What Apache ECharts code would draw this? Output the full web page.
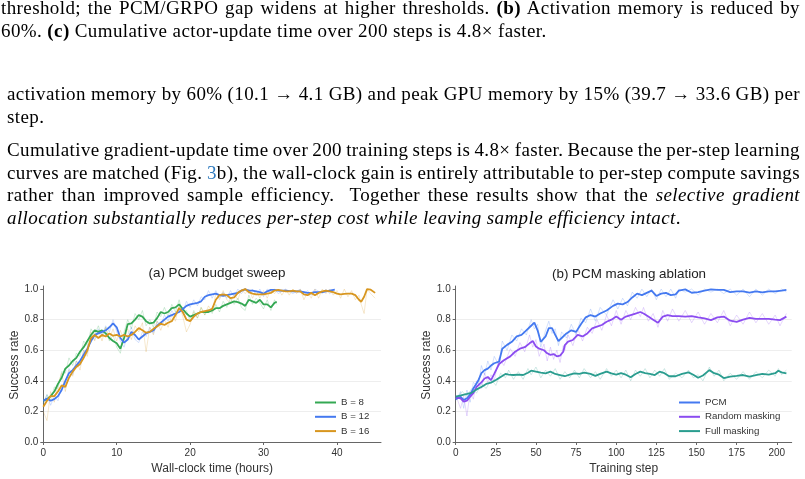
<!DOCTYPE html>
<html>
<head>
<meta charset="utf-8">
<script src="https://cdn.jsdelivr.net/npm/echarts@6/dist/echarts.min.js"></script>
<style>
  html, body { margin: 0; padding: 0; background: #fff; }
  #page { position: relative; width: 805px; height: 479px; overflow: hidden; }
  #chart { position: absolute; left: 0; top: 0; width: 805px; height: 479px; }
  .ln { position: absolute; left: 7px; width: 793px; font-family: "Liberation Serif", "Times New Roman", serif;
        font-size: 19px; letter-spacing: 0.4px; line-height: 20px; color: #000; white-space: nowrap; overflow: visible; }
  .j { text-align: justify; text-align-last: justify; }
  .ref { color: #2f7bbf; }
</style>
</head>
<body>
<div id="page">
  <div id="chart"></div>
  <div class="ln j" style="left:1px;width:799px;top:-2px">threshold; the PCM/GRPO gap widens at higher thresholds. <b>(b)</b> Activation memory is reduced by</div>
  <div class="ln" style="left:1px;top:21px">60%. <b>(c)</b> Cumulative actor-update time over 200 steps is 4.8× faster.</div>

  <div class="ln j" style="top:84px">activation memory by 60% (10.1 → 4.1 GB) and peak GPU memory by 15% (39.7 → 33.6 GB) per</div>
  <div class="ln" style="top:107px">step.</div>

  <div class="ln j" style="top:140px">Cumulative gradient-update time over 200 training steps is 4.8× faster. Because the per-step learning</div>
  <div class="ln j" style="top:163px">curves are matched (Fig. <span class="ref">3</span>b), the wall-clock gain is entirely attributable to per-step compute savings</div>
  <div class="ln j" style="top:185px">rather than improved sample efficiency.&nbsp; Together these results show that the <i>selective gradient</i></div>
  <div class="ln" style="top:208px"><i>allocation substantially reduces per-step cost while leaving sample efficiency intact</i>.</div>
</div>
<script>
// (a) budget sweep: wall-clock hours vs success rate
const b8Hours = [0,0.5,1,1.5,2,2.5,3,3.5,4,4.5,5,5.5,6,6.5,7,7.5,8,8.5,9,9.5,10,10.5,11,11.5,12,12.5,13,13.5,14,14.5,15,15.5,16,16.5,17,17.5,18,18.5,19,19.5,20,20.5,21,21.5,22,22.5,23,23.5,24,24.5,25,25.5,26,26.5,27,27.5,28,28.5,29,29.5,30,30.5,31,31.5,31.8];
const b8Rate = [0.27,0.28,0.30,0.33,0.38,0.42,0.48,0.50,0.53,0.55,
  0.59,0.62,0.66,0.70,0.73,0.72,0.73,0.71,0.68,0.66,
  0.645,0.61,0.68,0.77,0.775,0.80,0.83,0.82,0.79,0.775,
  0.78,0.81,0.85,0.84,0.85,0.875,0.88,0.90,0.87,0.84,
  0.82,0.83,0.84,0.85,0.85,0.85,0.86,0.875,0.875,0.89,
  0.90,0.91,0.92,0.915,0.905,0.89,0.93,0.92,0.91,0.93,
  0.90,0.90,0.88,0.91,0.917];
const b8Raw = [0.25,0.31,0.27,0.36,0.35,0.46,0.45,0.55,0.50,0.58,
  0.56,0.66,0.63,0.74,0.70,0.76,0.69,0.75,0.66,0.70,
  0.62,0.58,0.72,0.80,0.74,0.84,0.80,0.86,0.76,0.80,
  0.75,0.85,0.82,0.88,0.82,0.90,0.85,0.93,0.84,0.86,
  0.79,0.86,0.81,0.88,0.83,0.87,0.84,0.90,0.85,0.92,
  0.88,0.94,0.90,0.94,0.88,0.86,0.96,0.90,0.94,0.91,
  0.87,0.93,0.86,0.93,0.90];

const b12Hours = [0,0.5,1,1.5,2,2.5,3,3.5,4,4.5,5,5.5,6,6.5,7,7.5,8,8.5,9,9.5,10,10.5,11,11.5,12,12.5,13,13.5,14,14.5,15,15.5,16,16.5,17,17.5,18,18.5,19,19.5,20,20.5,21,21.5,22,22.5,23,23.5,24,24.5,25,25.5,26,26.5,27,27.5,28,28.5,29,29.5,30,30.5,31,31.5,32,33,34,35,35.5,36,36.5,37,38,38.5,39,39.7];
const b12Rate = [0.27,0.285,0.27,0.28,0.30,0.34,0.40,0.45,0.47,0.50,
  0.53,0.57,0.61,0.66,0.70,0.71,0.72,0.73,0.75,0.775,
  0.75,0.68,0.65,0.67,0.72,0.70,0.67,0.69,0.71,0.72,
  0.73,0.76,0.78,0.80,0.82,0.83,0.84,0.85,0.87,0.89,
  0.90,0.905,0.91,0.92,0.95,0.96,0.965,0.97,0.96,0.955,
  0.96,0.965,0.97,0.975,0.99,0.998,0.99,0.99,0.985,0.98,
  0.97,0.985,0.995,0.995,0.99,
  0.99,0.985,0.985,0.98,0.975,0.975,0.98,0.98,0.985,0.99,0.996];
const b12Raw = [0.25,0.31,0.24,0.30,0.27,0.37,0.38,0.48,0.44,0.53,
  0.50,0.60,0.58,0.69,0.67,0.74,0.70,0.76,0.72,0.80,
  0.72,0.66,0.62,0.70,0.75,0.67,0.65,0.72,0.69,0.75,
  0.71,0.79,0.76,0.83,0.79,0.86,0.82,0.88,0.85,0.92,
  0.88,0.93,0.89,0.95,0.93,0.99,0.94,0.99,0.94,0.98,
  0.94,0.99,0.95,1.0,0.97,1.0,0.97,1.0,0.96,1.0,
  0.95,1.0,0.98,1.0,0.97,
  1.0,0.97,1.0,0.96,0.99,0.96,1.0,0.97,1.0,0.97,1.0];

const b16Hours = [0,0.5,1,1.5,2,2.5,3,3.5,4,4.5,5,5.5,6,6.5,7,7.5,8,8.5,9,9.5,10,10.5,11,11.5,12,12.5,13,13.5,14,14.5,15,15.5,16,16.5,17,17.5,18,18.5,19,19.5,20,20.5,21,21.5,22,22.5,23,23.5,24,24.5,25,25.5,26,26.5,27,27.5,28,28.5,29,29.5,30,30.5,31,31.5,32,32.5,33,33.5,34,34.5,35,35.5,36,36.5,37,37.5,38,38.5,39,39.5,40,40.5,41,41.5,42,42.5,43,43.3,43.7,44.1,44.6,45.2];
const b16Rate = [0.23,0.27,0.30,0.30,0.33,0.37,0.36,0.42,0.46,0.49,
  0.51,0.55,0.60,0.68,0.70,0.68,0.70,0.69,0.71,0.695,
  0.70,0.69,0.70,0.69,0.70,0.72,0.745,0.73,0.715,0.72,
  0.74,0.755,0.775,0.765,0.78,0.79,0.83,0.875,0.85,0.80,
  0.79,0.82,0.84,0.85,0.855,0.86,0.87,0.93,0.96,0.965,
  0.96,0.94,0.945,0.975,0.99,1.0,0.98,0.97,0.965,0.965,
  0.965,0.97,0.975,0.99,0.995,0.99,0.985,0.985,0.99,0.985,
  0.985,0.965,0.96,0.975,0.96,0.975,0.985,0.99,0.985,0.98,
  0.97,0.965,0.968,0.97,0.97,0.96,0.93,
  0.917,0.95,1.0,0.996,0.975];
const b16Raw = [0.20,0.14,0.33,0.26,0.38,0.45,0.33,0.47,0.43,0.53,
  0.47,0.60,0.56,0.72,0.66,0.73,0.66,0.75,0.67,0.74,
  0.66,0.73,0.66,0.74,0.67,0.76,0.72,0.78,0.59,0.75,
  0.70,0.79,0.73,0.80,0.75,0.83,0.79,0.90,0.82,0.72,
  0.77,0.85,0.81,0.88,0.83,0.89,0.85,0.97,0.93,0.99,
  0.93,0.91,0.97,0.93,1.0,0.97,1.0,0.94,0.99,0.94,
  0.99,0.94,1.0,0.97,1.0,0.96,1.0,0.96,1.0,0.97,
  1.0,0.93,0.98,0.94,1.0,0.94,1.0,0.97,1.0,0.96,
  0.99,0.94,1.0,0.95,0.99,0.93,0.96,
  0.90,0.84,1.0,0.97,0.94];

// (b) masking ablation: training step vs success rate
const pcmSteps = [0,3,5,7,9,11,14,16,18,20,22,24,27,29,32,35,38,41,44,47,49,51,53,56,58,60,62,64,66,69,72,75,78,81,84,87,90,94,98,101,104,107,110,113,116,119,122,125,128,131,134,137,139,143,147,151,155,159,163,167,171,175,179,183,187,191,195,199,203,206];
const pcmRate = [0.28,0.295,0.275,0.285,0.31,0.35,0.40,0.45,0.47,0.48,
  0.50,0.515,0.525,0.61,0.635,0.655,0.69,0.70,0.73,0.76,
  0.78,0.73,0.655,0.69,0.745,0.745,0.70,0.66,0.68,0.71,
  0.73,0.72,0.77,0.815,0.83,0.82,0.84,0.86,0.89,0.905,
  0.90,0.915,0.945,0.97,0.96,0.975,0.99,0.955,0.97,0.975,
  0.96,0.965,0.99,0.998,0.976,0.98,0.99,0.998,0.995,0.995,
  0.98,0.985,0.985,0.976,0.985,0.978,0.985,0.985,0.99,0.995];
const pcmRaw = [0.27,0.33,0.22,0.34,0.26,0.39,0.36,0.50,0.44,0.53,
  0.47,0.56,0.50,0.66,0.60,0.70,0.66,0.74,0.70,0.80,
  0.74,0.77,0.62,0.73,0.79,0.71,0.74,0.63,0.72,0.68,
  0.77,0.70,0.81,0.78,0.87,0.79,0.88,0.83,0.93,0.87,
  0.94,0.89,0.98,0.94,1.0,0.95,1.0,0.93,1.0,0.95,
  1.0,0.94,1.0,0.98,1.0,0.96,1.0,0.98,1.0,0.97,
  1.0,0.96,1.0,0.95,1.0,0.96,1.0,0.97,1.0,0.98];

const rmSteps = [0,3,5,7,9,11,13,16,18,20,22,24,27,30,34,37,40,43,46,48,50,52,55,57,59,61,63,65,67,68,70,73,76,79,82,85,88,91,94,97,100,103,106,109,112,115,117,120,123,126,129,132,135,139,143,147,151,155,159,163,167,171,175,179,183,187,191,195,199,202,206];
const rmRate = [0.29,0.285,0.264,0.27,0.296,0.32,0.36,0.39,0.415,0.425,
  0.405,0.445,0.51,0.535,0.56,0.59,0.61,0.62,0.645,0.66,
  0.625,0.61,0.60,0.58,0.57,0.575,0.56,0.565,0.59,0.634,
  0.656,0.667,0.70,0.69,0.71,0.743,0.754,0.765,0.786,0.80,
  0.82,0.80,0.82,0.83,0.84,0.85,0.84,0.82,0.80,0.78,
  0.82,0.83,0.823,0.823,0.82,0.823,0.815,0.808,0.797,0.815,
  0.82,0.793,0.786,0.80,0.812,0.805,0.805,0.805,0.80,0.797,
  0.82];
const rmRaw = [0.31,0.22,0.30,0.17,0.33,0.28,0.40,0.35,0.45,0.39,
  0.44,0.40,0.55,0.50,0.61,0.56,0.65,0.59,0.70,0.62,
  0.67,0.56,0.64,0.53,0.62,0.54,0.60,0.52,0.63,0.60,
  0.70,0.63,0.74,0.66,0.75,0.71,0.80,0.73,0.83,0.76,
  0.86,0.77,0.86,0.80,0.88,0.82,0.88,0.79,0.84,0.75,
  0.86,0.79,0.87,0.79,0.86,0.78,0.85,0.77,0.84,0.78,
  0.86,0.76,0.83,0.77,0.85,0.78,0.84,0.77,0.83,0.76,
  0.84];

const fmSteps = [0,4,7,10,13,16,19,22,25,28,31,33,36,39,42,45,47,50,53,56,59,62,65,68,71,74,77,80,84,87,90,94,97,100,103,106,109,112,115,118,121,124,127,130,133,137,141,145,148,151,154,158,161,164,167,171,175,179,183,187,191,195,199,201,203,206];
const fmRate = [0.296,0.307,0.314,0.322,0.344,0.36,0.38,0.388,0.405,0.425,
  0.445,0.44,0.438,0.44,0.438,0.453,0.466,0.46,0.453,0.449,
  0.46,0.445,0.438,0.43,0.44,0.449,0.445,0.453,0.445,0.432,
  0.445,0.46,0.449,0.44,0.45,0.44,0.423,0.445,0.46,0.45,
  0.445,0.438,0.46,0.45,0.43,0.43,0.445,0.455,0.44,0.42,
  0.435,0.47,0.45,0.44,0.418,0.427,0.432,0.438,0.428,0.438,
  0.445,0.44,0.45,0.466,0.455,0.449];
const fmRaw = [0.28,0.33,0.30,0.35,0.32,0.38,0.35,0.41,0.37,0.45,
  0.42,0.47,0.41,0.46,0.41,0.48,0.44,0.49,0.42,0.47,
  0.43,0.48,0.41,0.46,0.42,0.47,0.42,0.48,0.42,0.46,
  0.41,0.48,0.43,0.47,0.42,0.47,0.40,0.47,0.43,0.48,
  0.42,0.47,0.43,0.48,0.41,0.45,0.42,0.47,0.42,0.44,
  0.40,0.49,0.43,0.47,0.40,0.45,0.41,0.46,0.41,0.46,
  0.42,0.47,0.43,0.48,0.44,0.47];

const hourTicks = [0, 10, 20, 30, 40];
const stepTicks = [0, 25, 50, 75, 100, 125, 150, 175, 200];
const rateTicks = [0, 0.2, 0.4, 0.6, 0.8, 1.0];

const GREEN = '#34a853', BLUE = '#4479f0', ORANGE = '#d8961f', PURPLE = '#8b4cf0', TEAL = '#2a9d8f';

// 两端对齐的行若自然宽度超出，收紧词距
for (const el of document.querySelectorAll('.j')) {
  let ws = 0;
  while (el.scrollWidth > el.clientWidth && ws > -5) {
    ws -= 0.25;
    el.style.wordSpacing = ws + 'px';
  }
}

const pair = (xs, ys) => xs.map((x, i) => [x, ys[i]]);

// 坐标轴公共样式
const axisLine = { show: true, lineStyle: { color: '#666', width: 1 } };
const nameStyle = { fontSize: 12, color: '#333' };

function xAxisFor(gridIndex, name, max, ticks) {
  return {
    type: 'value', gridIndex, min: 0, max,
    name, nameLocation: 'middle', nameGap: 18, nameTextStyle: nameStyle,
    axisLine,
    axisTick: { show: true, length: 3, customValues: ticks, lineStyle: { color: '#666' } },
    axisLabel: { customValues: ticks, margin: 4, fontSize: 10, color: '#333' },
    splitLine: { show: false }
  };
}

function yAxisFor(gridIndex) {
  return {
    type: 'value', gridIndex, min: -0.015, max: 1.02,
    name: 'Success rate', nameLocation: 'middle', nameGap: 22, nameTextStyle: nameStyle,
    axisLine,
    axisTick: { show: true, length: 3, customValues: rateTicks, lineStyle: { color: '#666' } },
    axisLabel: { customValues: rateTicks, margin: 5, fontSize: 10, color: '#333', formatter: v => v.toFixed(1) },
    splitLine: { show: true, showMinLine: false, showMaxLine: false, lineStyle: { color: '#eeeeee', width: 1 } }
  };
}

function rawLine(idx, xs, ys, color) {
  return {
    type: 'line', xAxisIndex: idx, yAxisIndex: idx, data: pair(xs, ys),
    showSymbol: false, silent: true, z: 1,
    lineStyle: { color, width: 1, opacity: 0.22 }
  };
}

function mainLine(idx, name, xs, ys, color) {
  return {
    type: 'line', name, xAxisIndex: idx, yAxisIndex: idx, data: pair(xs, ys),
    showSymbol: false, z: 3, color,
    lineStyle: { color, width: 1.8 }
  };
}

const legendBase = {
  orient: 'vertical', icon: 'rect', itemWidth: 21, itemHeight: 2, itemGap: 2.3, padding: 0,
  selectedMode: false, textStyle: { fontSize: 9.7, color: '#333', lineHeight: 12 }
};

const chart = echarts.init(document.getElementById('chart'));
chart.setOption({
  animation: false,
  textStyle: { fontFamily: '"Liberation Sans", Arial, sans-serif' },
  title: [
    { text: '(a) PCM budget sweep', left: 212, top: 262, textAlign: 'center',
      textStyle: { fontSize: 13.4, fontWeight: 'normal', color: '#222' } },
    { text: '(b) PCM masking ablation', left: 624, top: 263, textAlign: 'center',
      textStyle: { fontSize: 13.4, fontWeight: 'normal', color: '#222' } }
  ],
  legend: [
    Object.assign({ data: ['B = 8', 'B = 12', 'B = 16'], left: 315, top: 396.5 }, legendBase),
    Object.assign({ data: ['PCM', 'Random masking', 'Full masking'], left: 679, top: 396.5 }, legendBase)
  ],
  grid: [
    { left: 43.3, top: 286, width: 337.7, height: 158.3 },
    { left: 455.7, top: 286, width: 336, height: 158.3 }
  ],
  xAxis: [
    xAxisFor(0, 'Wall-clock time (hours)', 46, hourTicks),
    xAxisFor(1, 'Training step', 209.3, stepTicks)
  ],
  yAxis: [yAxisFor(0), yAxisFor(1)],
  series: [
    rawLine(0, b8Hours, b8Raw, GREEN),
    rawLine(0, b12Hours, b12Raw, BLUE),
    rawLine(0, b16Hours, b16Raw, ORANGE),
    mainLine(0, 'B = 8', b8Hours, b8Rate, GREEN),
    mainLine(0, 'B = 12', b12Hours, b12Rate, BLUE),
    mainLine(0, 'B = 16', b16Hours, b16Rate, ORANGE),
    rawLine(1, pcmSteps, pcmRaw, BLUE),
    rawLine(1, rmSteps, rmRaw, PURPLE),
    rawLine(1, fmSteps, fmRaw, TEAL),
    mainLine(1, 'PCM', pcmSteps, pcmRate, BLUE),
    mainLine(1, 'Random masking', rmSteps, rmRate, PURPLE),
    mainLine(1, 'Full masking', fmSteps, fmRate, TEAL)
  ]
});
</script>
</body>
</html>
